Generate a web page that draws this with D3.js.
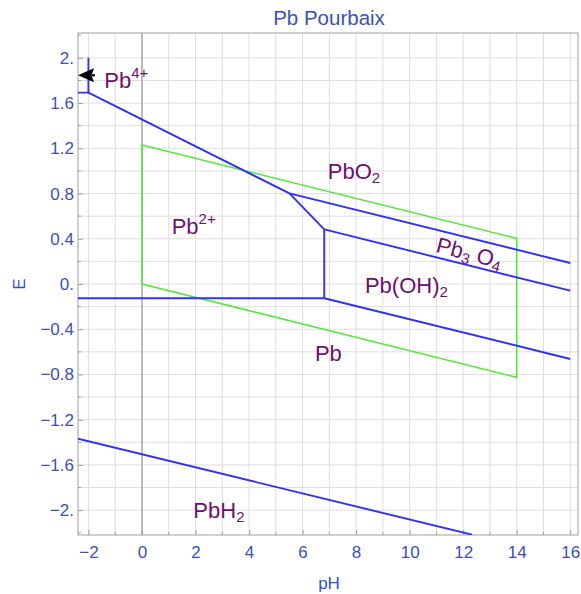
<!DOCTYPE html>
<html>
<head>
<meta charset="utf-8">
<script src="https://cdn.jsdelivr.net/npm/d3@7"></script>
<style>
  html, body { margin: 0; padding: 0; background: #fff; }
  svg { display: block; font-family: "Liberation Sans", Arial, sans-serif; }
</style>
</head>
<body>
<svg id="chart" width="581" height="594"></svg>
<script>
// Lead Pourbaix diagram: E (V) vs pH

// Phase boundaries (blue), each as [pH, E] endpoints
const pb4Boundary    = [[-2.39, 1.693], [-2, 1.693], [-2, 2.0]];
const pbo2Pb2        = [[-2, 1.693], [5.51, 0.801]];
const pbo2Pb3o4      = [[5.51, 0.801], [16, 0.186]];
const pb3o4Pb2       = [[5.51, 0.801], [6.81, 0.483]];
const pb3o4PbOH2     = [[6.81, 0.483], [16, -0.059]];
const pbOH2Pb2       = [[6.81, 0.483], [6.81, -0.126]];
const pb2Pb          = [[-2.39, -0.126], [6.81, -0.126]];
const pbOH2Pb        = [[6.81, -0.126], [16, -0.663]];
const pbPbH2         = [[-2.39, -1.369], [12.33, -2.217]];

// Water stability region (green), pH 0 to 14
const waterRegion = [[0, 0], [0, 1.229], [14, 0.403], [14, -0.826]];

// Arrow pointing at the Pb4+ field
const arrowFrom = [-1.76, 1.846];
const arrowTo   = [-2.39, 1.846];

// Species labels: parts of text, anchor [pH, E], rotation in degrees
const speciesLabels = [
  { parts: [["Pb", ""], ["4+", "sup"]], at: [-1.41, 1.734], rot: 0 },
  { parts: [["PbO", ""], ["2", "sub"]], at: [6.94, 0.926], rot: 0 },
  { parts: [["Pb", ""], ["2+", "sup"]], at: [1.11, 0.44], rot: 0 },
  { parts: [["Pb", ""], ["3", "sub"], [" O", ""], ["4", "sub"]], at: [10.95, 0.285], rot: 14.5 },
  { parts: [["Pb(OH)", ""], ["2", "sub"]], at: [8.33, -0.077], rot: 0 },
  { parts: [["Pb", ""]], at: [6.46, -0.678], rot: 0 },
  { parts: [["PbH", ""], ["2", "sub"]], at: [1.92, -2.072], rot: 0 }
];

// Axis ticks
const xTicks = [-2, 0, 2, 4, 6, 8, 10, 12, 14, 16];
const yTicks = [-2, -1.6, -1.2, -0.8, -0.4, 0, 0.4, 0.8, 1.2, 1.6, 2];
const xGrid = d3.range(-2, 16.5, 1);
const yGrid = d3.range(-10, 11, 1).map(v => v * 0.2);

const svg = d3.select("#chart");
const plotLeft = 78, plotRight = 578, plotTop = 33, plotBottom = 535;

const x = d3.scaleLinear().domain([-2.39, 16.29]).range([plotLeft, plotRight]);
const y = d3.scaleLinear().domain([-2.22, 2.22]).range([plotBottom, plotTop]);

const blue = "#2f2fff";
const green = "#55e83c";
const purple = "#6e1070";
const labelBlue = "#3a4fbf";

// Title
svg.append("text")
  .attr("x", (plotLeft + plotRight) / 2 + 1).attr("y", 25)
  .attr("text-anchor", "middle")
  .attr("font-size", 20.5).attr("fill", labelBlue)
  .text("Pb Pourbaix");

// Grid
const grid = svg.append("g");
grid.selectAll("line.gx").data(xGrid).join("line")
  .attr("class", "gx")
  .attr("x1", d => x(d)).attr("x2", d => x(d))
  .attr("y1", plotTop).attr("y2", plotBottom)
  .attr("stroke", "#dedede").attr("stroke-width", 1);
grid.selectAll("line.gy").data(yGrid).join("line")
  .attr("class", "gy")
  .attr("y1", d => y(d)).attr("y2", d => y(d))
  .attr("x1", plotLeft).attr("x2", plotRight)
  .attr("stroke", "#dedede").attr("stroke-width", 1);

// Vertical axis line at pH 0
svg.append("line")
  .attr("x1", x(0)).attr("x2", x(0)).attr("y1", plotTop).attr("y2", plotBottom)
  .attr("stroke", "#8a8a8a").attr("stroke-width", 1);

// Frame
svg.append("rect")
  .attr("x", plotLeft).attr("y", plotTop)
  .attr("width", plotRight - plotLeft).attr("height", plotBottom - plotTop)
  .attr("fill", "none").attr("stroke", "#a0a0a0").attr("stroke-width", 1);

// Axes with inward ticks
const fmtY = d => {
  if (Math.abs(d - Math.round(d)) < 1e-9) return (d < 0 ? "\u2212" : "") + Math.abs(Math.round(d)) + ".";
  return (d < 0 ? "\u2212" : "") + Math.abs(d).toFixed(1);
};
const fmtX = d => (d < 0 ? "\u2212" : "") + Math.abs(d);

const yAxis = svg.append("g")
  .attr("transform", `translate(${plotLeft},0)`)
  .call(d3.axisLeft(y).tickValues(yTicks).tickFormat(fmtY).tickSize(-5).tickPadding(4));
const xAxis = svg.append("g")
  .attr("transform", `translate(0,${plotBottom})`)
  .call(d3.axisBottom(x).tickValues(xTicks).tickFormat(fmtX).tickSize(-5).tickPadding(11));

[yAxis, xAxis].forEach(a => {
  a.select(".domain").remove();
  a.selectAll(".tick line").attr("stroke", "#a0a0a0");
  a.selectAll(".tick text")
    .attr("fill", labelBlue)
    .attr("font-size", 17)
    .attr("font-family", "Liberation Sans, Arial, sans-serif");
});

// Minor ticks
const minorY = d3.range(-11, 12, 1).map(v => v * 0.2).filter(v => !yTicks.some(t => Math.abs(t - v) < 1e-6));
svg.append("g").selectAll("line").data(minorY).join("line")
  .attr("x1", plotLeft).attr("x2", plotLeft + 3)
  .attr("y1", d => y(d)).attr("y2", d => y(d))
  .attr("stroke", "#a0a0a0");
const minorX = d3.range(-2, 17, 1).filter(v => !xTicks.includes(v));
svg.append("g").selectAll("line").data(minorX).join("line")
  .attr("x1", d => x(d)).attr("x2", d => x(d))
  .attr("y1", plotBottom).attr("y2", plotBottom - 3)
  .attr("stroke", "#a0a0a0");

// Axis titles
svg.append("text")
  .attr("x", (plotLeft + plotRight) / 2 + 1).attr("y", 589)
  .attr("text-anchor", "middle").attr("font-size", 17).attr("fill", labelBlue)
  .text("pH");
svg.append("text")
  .attr("transform", `translate(25,${y(0)}) rotate(-90)`)
  .attr("text-anchor", "middle").attr("font-size", 17).attr("fill", labelBlue)
  .text("E");

// Plot area clip
svg.append("clipPath").attr("id", "plotClip")
  .append("rect").attr("x", plotLeft).attr("y", plotTop)
  .attr("width", plotRight - plotLeft).attr("height", plotBottom - plotTop);

const plot = svg.append("g").attr("clip-path", "url(#plotClip)");
const line = d3.line().x(d => x(d[0])).y(d => y(d[1]));

// Water stability region
plot.append("path")
  .attr("d", line(waterRegion) + "Z")
  .attr("fill", "none").attr("stroke", green).attr("stroke-width", 1.6);

// Phase boundaries
const boundaries = [pb4Boundary, pbo2Pb2, pbo2Pb3o4, pb3o4Pb2, pb3o4PbOH2, pbOH2Pb2, pb2Pb, pbOH2Pb, pbPbH2];
plot.selectAll("path.boundary").data(boundaries).join("path")
  .attr("class", "boundary")
  .attr("d", d => line(d))
  .attr("fill", "none").attr("stroke", blue).attr("stroke-width", 1.9)
  .attr("stroke-linejoin", "round");

// Arrow
{
  const x0 = x(arrowFrom[0]), y0 = y(arrowFrom[1]);
  const x1 = x(arrowTo[0]), y1 = y(arrowTo[1]);
  const headLen = 16, headHalf = 7, notch = 2.5;
  svg.append("line")
    .attr("x1", x0).attr("y1", y0).attr("x2", x1 + headLen - 2).attr("y2", y1)
    .attr("stroke", "#000").attr("stroke-width", 2.2);
  svg.append("path")
    .attr("d", `M${x1},${y1} L${x1 + headLen},${y1 - headHalf} L${x1 + headLen - notch},${y1} L${x1 + headLen},${y1 + headHalf} Z`)
    .attr("fill", "#000");
}

// Species labels
speciesLabels.forEach(lab => {
  const px = x(lab.at[0]), py = y(lab.at[1]);
  const t = svg.append("text")
    .attr("transform", `translate(${px},${py}) rotate(${lab.rot})`)
    .attr("font-size", 22).attr("fill", purple);
  let shift = 0;
  lab.parts.forEach(([s, kind]) => {
    const ts = t.append("tspan").text(s);
    let target = 0;
    if (kind === "sup") { ts.attr("font-size", 15); target = -10; }
    else if (kind === "sub") { ts.attr("font-size", 15); target = 4; }
    ts.attr("dy", target - shift);
    shift = target;
  });
});
</script>
</body>
</html>
